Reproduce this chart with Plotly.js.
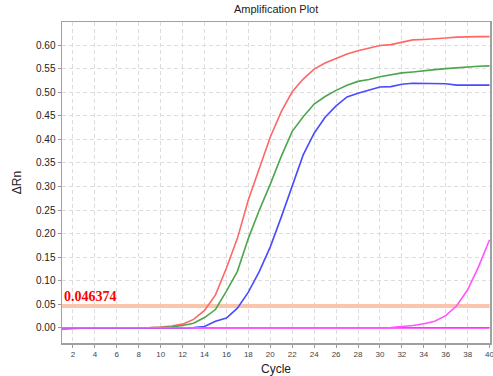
<!DOCTYPE html>
<html>
<head>
<meta charset="utf-8">
<script src="https://cdn.plot.ly/plotly-3.0.1.min.js"></script>
<style>html,body{margin:0;padding:0;background:#fff;}#chart{width:493px;height:376px;}</style>
</head>
<body>
<div id="chart"></div>
<script>
const cycles = [1,2,3,4,5,6,7,8,9,10,11,12,13,14,15,16,17,18,19,20,21,22,23,24,25,26,27,28,29,30,31,32,33,34,35,36,37,38,39,40];
const redValues = [-0.003,-0.001,0.000,0.000,0.000,0.000,0.000,0.000,0.001,0.002,0.004,0.008,0.018,0.037,0.070,0.127,0.190,0.272,0.340,0.405,0.459,0.501,0.528,0.549,0.562,0.572,0.581,0.588,0.594,0.599,0.601,0.606,0.611,0.612,0.613,0.615,0.617,0.618,0.618,0.618];
const greenValues = [0.000,0.000,0.000,0.000,0.000,-0.001,-0.001,0.000,0.000,0.001,0.002,0.005,0.010,0.022,0.039,0.078,0.120,0.190,0.250,0.305,0.364,0.417,0.448,0.475,0.491,0.504,0.515,0.523,0.527,0.533,0.537,0.541,0.543,0.546,0.548,0.550,0.552,0.554,0.555,0.556];
const blueValues = [0.000,0.000,0.000,0.000,0.000,-0.001,-0.001,-0.001,-0.001,-0.001,0.000,0.000,0.001,0.003,0.014,0.021,0.042,0.076,0.120,0.172,0.235,0.300,0.367,0.413,0.447,0.471,0.490,0.498,0.505,0.511,0.512,0.517,0.519,0.519,0.519,0.518,0.515,0.515,0.515,0.515];
const magentaRiseValues = [0.000,0.000,0.000,0.000,0.000,0.000,0.000,0.000,0.000,0.000,0.000,0.000,0.000,0.000,0.000,0.000,0.000,0.000,0.000,0.000,0.000,0.000,0.000,0.000,0.000,0.000,0.000,0.000,0.000,0.000,0.001,0.003,0.005,0.009,0.014,0.026,0.047,0.081,0.130,0.187];
const magentaFlatValues = [0.000,0.000,0.000,0.000,0.000,0.000,0.000,0.000,0.000,0.000,0.000,0.000,0.000,0.000,0.000,0.000,0.000,0.000,0.000,0.000,0.000,0.000,0.000,0.000,0.000,0.000,0.000,0.000,0.000,0.000,0.000,0.000,-0.001,-0.001,0.000,0.000,0.000,0.000,0.000,0.000];
const threshold = 0.046374;
const thresholdLabel = "0.046374";
const xTicks = [2,4,6,8,10,12,14,16,18,20,22,24,26,28,30,32,34,36,38,40];
const yTicks = [0,0.05,0.10,0.15,0.20,0.25,0.30,0.35,0.40,0.45,0.50,0.55,0.60];

function line(y, color) {
  return {x: cycles, y: y, type: 'scatter', mode: 'lines', line: {color: color, width: 1.6}, hoverinfo: 'skip', showlegend: false, cliponaxis: true};
}
const traces = [
  {x: [cycles[0], cycles[cycles.length-1]], y: [threshold, threshold], type: 'scatter', mode: 'lines', line: {color: '#fbc4ad', width: 4}, showlegend: false, hoverinfo: 'skip'},
  line(magentaFlatValues, '#ff33ff'),
  line(redValues, '#ff6666'),
  line(greenValues, '#4ca64c'),
  line(blueValues, '#4a4aff'),
  line(magentaRiseValues, '#ff55ff')
];
const gridStyle = {showgrid: true, gridcolor: '#dddddd', griddash: '4px,3px', gridwidth: 1};
const layout = {
  width: 493, height: 376,
  margin: {l: 62, r: 3, t: 22, b: 33},
  paper_bgcolor: '#fff', plot_bgcolor: '#fff',
  font: {family: 'Liberation Sans, Arial, sans-serif', color: '#333'},
  title: {text: 'Amplification Plot', font: {size: 11, color: '#222'}, x: 0.56, xanchor: 'center', y: 0.985, yanchor: 'top'},
  xaxis: Object.assign({
    range: [1, 40.04], tickvals: xTicks, ticktext: xTicks.map(String), ticklabeloverflow: 'allow',
    tickfont: {size: 8, color: '#444'}, ticks: 'outside', ticklen: 3, tickcolor: '#999',
    showline: true, linecolor: '#a0a0a0', linewidth: 1.5, mirror: true, zeroline: false,
    title: {text: 'Cycle', font: {size: 12, color: '#222'}, standoff: 6}
  }, gridStyle),
  yaxis: Object.assign({
    range: [-0.032, 0.649], tickvals: yTicks, ticktext: yTicks.map(v => v.toFixed(2)),
    tickfont: {size: 10, color: '#222'}, ticks: 'outside', ticklen: 3, tickcolor: '#999',
    showline: true, linecolor: '#a0a0a0', linewidth: 1.5, mirror: true, zeroline: false,
    title: {text: 'ΔRn', font: {size: 12, color: '#222'}, standoff: 12}
  }, gridStyle),
  annotations: [{
    x: 1, y: threshold, xref: 'x', yref: 'y', xanchor: 'left', yanchor: 'bottom', yshift: 0,
    text: '<b>' + thresholdLabel + '</b>', showarrow: false,
    font: {family: 'Liberation Serif, Times New Roman, serif', size: 14, color: '#ff0000'}
  }]
};
Plotly.newPlot('chart', traces, layout, {displayModeBar: false, staticPlot: true});
</script>
</body>
</html>
